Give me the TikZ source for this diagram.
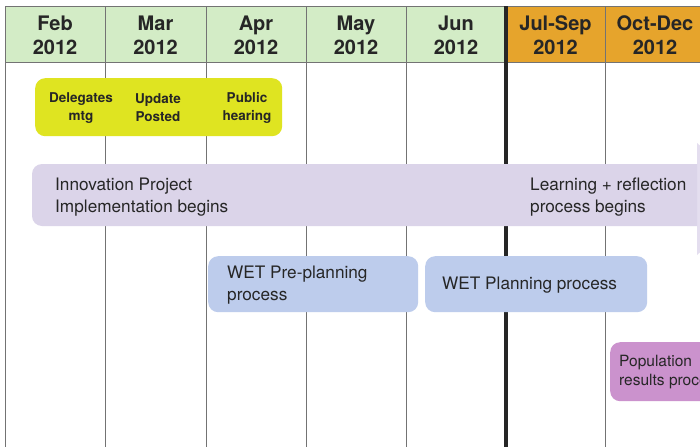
\documentclass[tikz,border=0pt]{standalone}
\usepackage{fontspec}
\setmainfont{TeX Gyre Heros}
\begin{document}
\begin{tikzpicture}[x=1pt,y=-1pt,
  hdr/.style={minimum height=56pt, inner sep=0pt, align=center,
    font=\fontsize{20}{24}\selectfont\bfseries, text=black!85},
  gridline/.style={draw=black!55, line width=0.9pt},
  boxbase/.style={rounded corners=10pt, inner sep=0pt, anchor=north west},
  evt/.style={font=\fontsize{13.5}{18}\selectfont\bfseries, align=center, text=black!85},
  lbl/.style={font=\fontsize{17.2}{21.5}\selectfont, align=left, text=black!85, inner sep=0pt, anchor=west}]
\definecolor{hdrgreen}{HTML}{D3ECC6}
\definecolor{hdrorange}{HTML}{E6A42C}
\definecolor{evtyellow}{HTML}{DFE421}
\definecolor{bandlilac}{HTML}{DBD4E9}
\definecolor{headlilac}{HTML}{E4DEEF}
\definecolor{wetblue}{HTML}{BDCCEC}
\definecolor{popmauve}{HTML}{CB92CD}
\useasboundingbox (0,0) rectangle (700,447);
\clip (0,0) rectangle (700,447);
\fill[white] (0,0) rectangle (700,447);

% month header cells
\node[hdr, fill=hdrgreen, minimum width=100pt] (feb) at (55,35) {Feb\\2012};
\node[hdr, fill=hdrgreen, minimum width=101pt] (mar) at (155.5,35) {Mar\\2012};
\node[hdr, fill=hdrgreen, minimum width=100pt] (apr) at (256,35) {Apr\\2012};
\node[hdr, fill=hdrgreen, minimum width=100pt] (may) at (356,35) {May\\2012};
\node[hdr, fill=hdrgreen, minimum width=100pt] (jun) at (456,35) {Jun\\2012};
\node[hdr, fill=hdrorange, minimum width=99pt] (q3) at (555.5,35) {Jul-Sep\\2012};
\node[hdr, fill=hdrorange, minimum width=100pt] (q4) at (655,35) {Oct-Dec\\2012};

% grid
\draw[gridline] (5,6) -- (705,6);
\draw[gridline] (5,62) -- (705,62);
\foreach \gx in {5,105,206,306,406,605}
  \draw[gridline] (\gx,6) -- (\gx,447);
\draw[black!85, line width=3.5pt] (506,6) -- (506,447);

% early milestones
\node[boxbase, fill=evtyellow, minimum width=247pt, minimum height=58pt] (milestones) at (35,78) {};
\node[evt] (delegates) at (81,108) {Delegates\\mtg};
\node[evt] (update) at (158,108) {Update\\Posted};
\node[evt] (hearing) at (247,108) {Public\\hearing};

% implementation band with arrow head
\fill[headlilac] (697,143) -- (760,199) -- (697,255) -- cycle;
\fill[bandlilac, rounded corners=10pt] (697,164) -- (32,164) -- (32,226) -- (697,226);
\fill[bandlilac] (680,164) rectangle (697,226);
\node[lbl] (innov) at (55,197) {Innovation Project\\Implementation begins};
\node[lbl] (learn) at (530,197) {Learning + reflection\\process begins};

% WET processes
\node[boxbase, fill=wetblue, minimum width=210pt, minimum height=56pt] (preplan) at (208,256) {};
\node[lbl] (preplantxt) at (227,285) {WET Pre-planning\\process};
\node[boxbase, fill=wetblue, minimum width=222pt, minimum height=56pt] (plan) at (425,256) {};
\node[lbl] (plantxt) at (442,285) {WET Planning process};

% population results
\node[boxbase, fill=popmauve, minimum width=120pt, minimum height=59pt] (pop) at (610,342) {};
\node[lbl, font=\fontsize{15.5}{19.5}\selectfont] (poptxt) at (619,372) {Population\\results process};
\end{tikzpicture}
\end{document}
